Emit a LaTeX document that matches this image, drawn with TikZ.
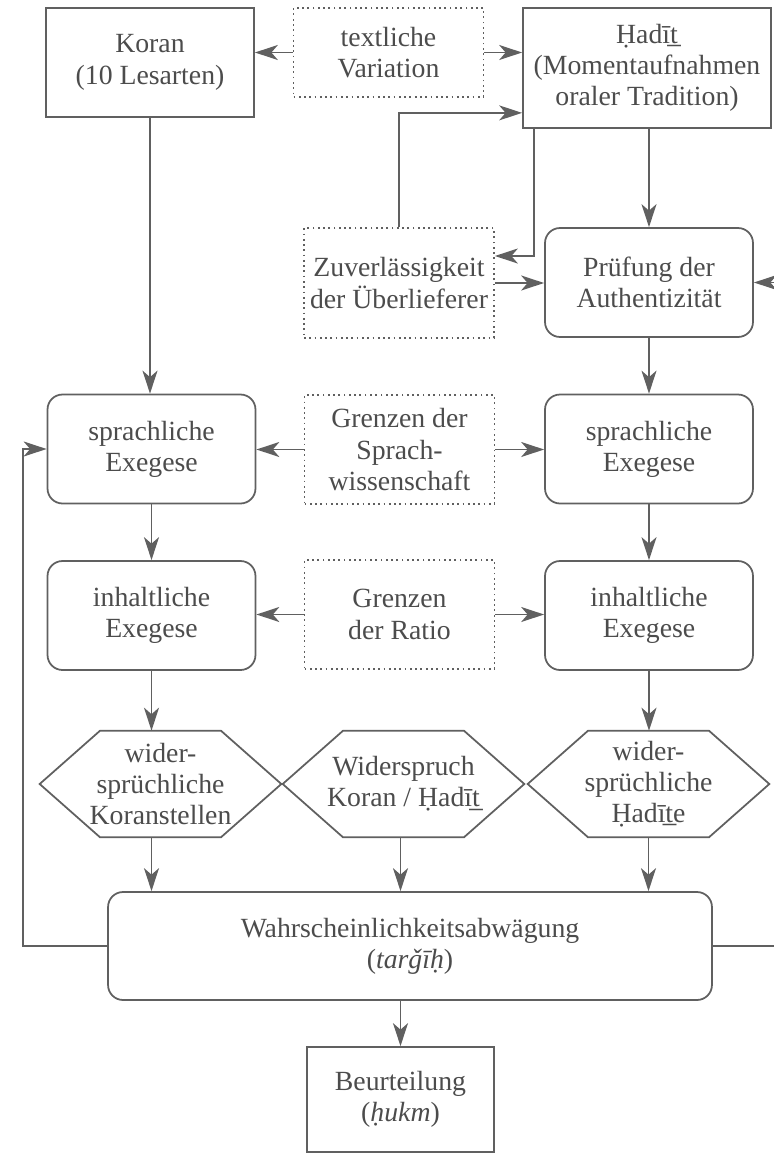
\documentclass[tikz,border=0pt]{standalone}
\usepackage{fontspec}
\setmainfont{Liberation Serif}
\usetikzlibrary{arrows.meta,positioning,calc}
\definecolor{linegray}{HTML}{606060}
\definecolor{textgray}{HTML}{4c4c4c}

\begin{document}
\begin{tikzpicture}[
    x=0.02cm, y=-0.02cm,
    font=\fontsize{15.8}{17.8}\selectfont,
    box/.style={draw=linegray, line width=1pt, align=center, text=textgray, inner sep=2pt, minimum width=4.16cm, minimum height=2.18cm},
    rbox/.style={box, rounded corners=0.3cm},
    dbox/.style={box, dotted, minimum width=3.8cm},
    hexa/.style={align=center, text=textgray, minimum width=4.82cm, minimum height=2.12cm, inner sep=0pt},
    ln/.style={draw=linegray, line width=1pt},
    arr/.style={-{Stealth[length=0.46cm, width=0.3cm, inset=0.13cm]}, ln},
  ]
    \useasboundingbox (0,0) rectangle (774,1153);
    \node[box] (koran) at (150,62.5) {Koran\\(10 Lesarten)};
    \node[dbox, minimum height=1.78cm] (textvar) at (388.5,52.5) {textliche\\Variation};
    \node[box, minimum width=4.96cm, minimum height=2.4cm] (hadit) at (647,68) {\d{H}ad\={\i}\b{t}\\(Momentaufnahmen\\oraler Tradition)};
    \node[dbox, minimum height=2.2cm] (zuver) at (399,283) {Zuverlässigkeit\\der Überlieferer};
    \node[rbox] (pruef) at (649,282.5) {Prüfung der\\Authentizität};
    \node[rbox] (sprL) at (151.5,449) {sprachliche\\Exegese};
    \node[dbox] (grenzS) at (399.5,449.5) {Grenzen der\\Sprach-\\wissenschaft};
    \node[rbox] (sprR) at (649,449) {sprachliche\\Exegese};
    \node[rbox] (inhL) at (151.5,615.5) {inhaltliche\\Exegese};
    \node[dbox] (grenzR) at (399.5,614.5) {Grenzen\\der Ratio};
    \node[rbox] (inhR) at (649,615.5) {inhaltliche\\Exegese};
    \node[hexa] (hexL) at (160.5,784) {wider-\\sprüchliche\\Koranstellen};
    \node[hexa] (hexM) at (403.5,784) {Widerspruch\\Koran / \d{H}ad\={\i}\b{t}};
    \node[hexa] (hexR) at (648.5,784) {wider-\\sprüchliche\\\d{H}ad\={\i}\b{t}e};
    \node[rbox, minimum width=12.08cm, minimum height=2.16cm] (targ) at (410,946) {Wahrscheinlichkeitsabwägung\\(\textit{tar\v{g}\={\i}\d{h}})};
    \node[box, minimum width=3.74cm, minimum height=2.1cm] (urteil) at (400.5,1099.5) {Beurteilung\\(\textit{\d{h}ukm})};
    \foreach \h in {hexL,hexM,hexR}
      \draw[ln] (\h.west) -- ($(\h.north west)!0.25!(\h.north east)$) -- ($(\h.north west)!0.75!(\h.north east)$) -- (\h.east)
        -- ($(\h.south west)!0.75!(\h.south east)$) -- ($(\h.south west)!0.25!(\h.south east)$) -- cycle;
    \draw[arr] (textvar.west) -- (textvar.west -| koran.east);
    \draw[arr] (textvar.east) -- (textvar.east -| hadit.west);
    \draw[arr] (zuver.north) |- ([yshift=0.32cm]hadit.south west);
    \draw[arr] ([xshift=0.24cm]hadit.south west) |- ([yshift=0.54cm]zuver.east);
    \draw[arr] (pruef.north |- hadit.south) -- (pruef.north);
    \draw[arr] (zuver.east) -- (zuver.east -| pruef.west);
    \draw[arr] (targ.east) -- ++(1.6cm,0) |- (pruef.east);
    \draw[arr] (koran.south) -- (koran.south |- sprL.north);
    \draw[arr] (pruef.south) -- (sprR.north);
    \draw[arr] (grenzS.west) -- (grenzS.west -| sprL.east);
    \draw[arr] (grenzS.east) -- (grenzS.east -| sprR.west);
    \draw[arr] (sprL.south) -- (inhL.north);
    \draw[arr] (sprR.south) -- (inhR.north);
    \draw[arr] (grenzR.west) -- (grenzR.west -| inhL.east);
    \draw[arr] (grenzR.east) -- (grenzR.east -| inhR.west);
    \draw[arr] (inhL.south) -- (inhL.south |- hexL.north);
    \draw[arr] (inhR.south) -- (inhR.south |- hexR.north);
    \draw[arr] (inhL.south |- hexL.south) -- (inhL.south |- targ.north);
    \draw[arr] (urteil.north |- hexM.south) -- (urteil.north |- targ.north);
    \draw[arr] (hexR.south) -- (hexR.south |- targ.north);
    \draw[arr] (targ.west) -- ++(-1.68cm,0) |- (sprL.west);
    \draw[arr] (targ.south -| urteil.north) -- (urteil.north);
  \end{tikzpicture}
\end{document}
